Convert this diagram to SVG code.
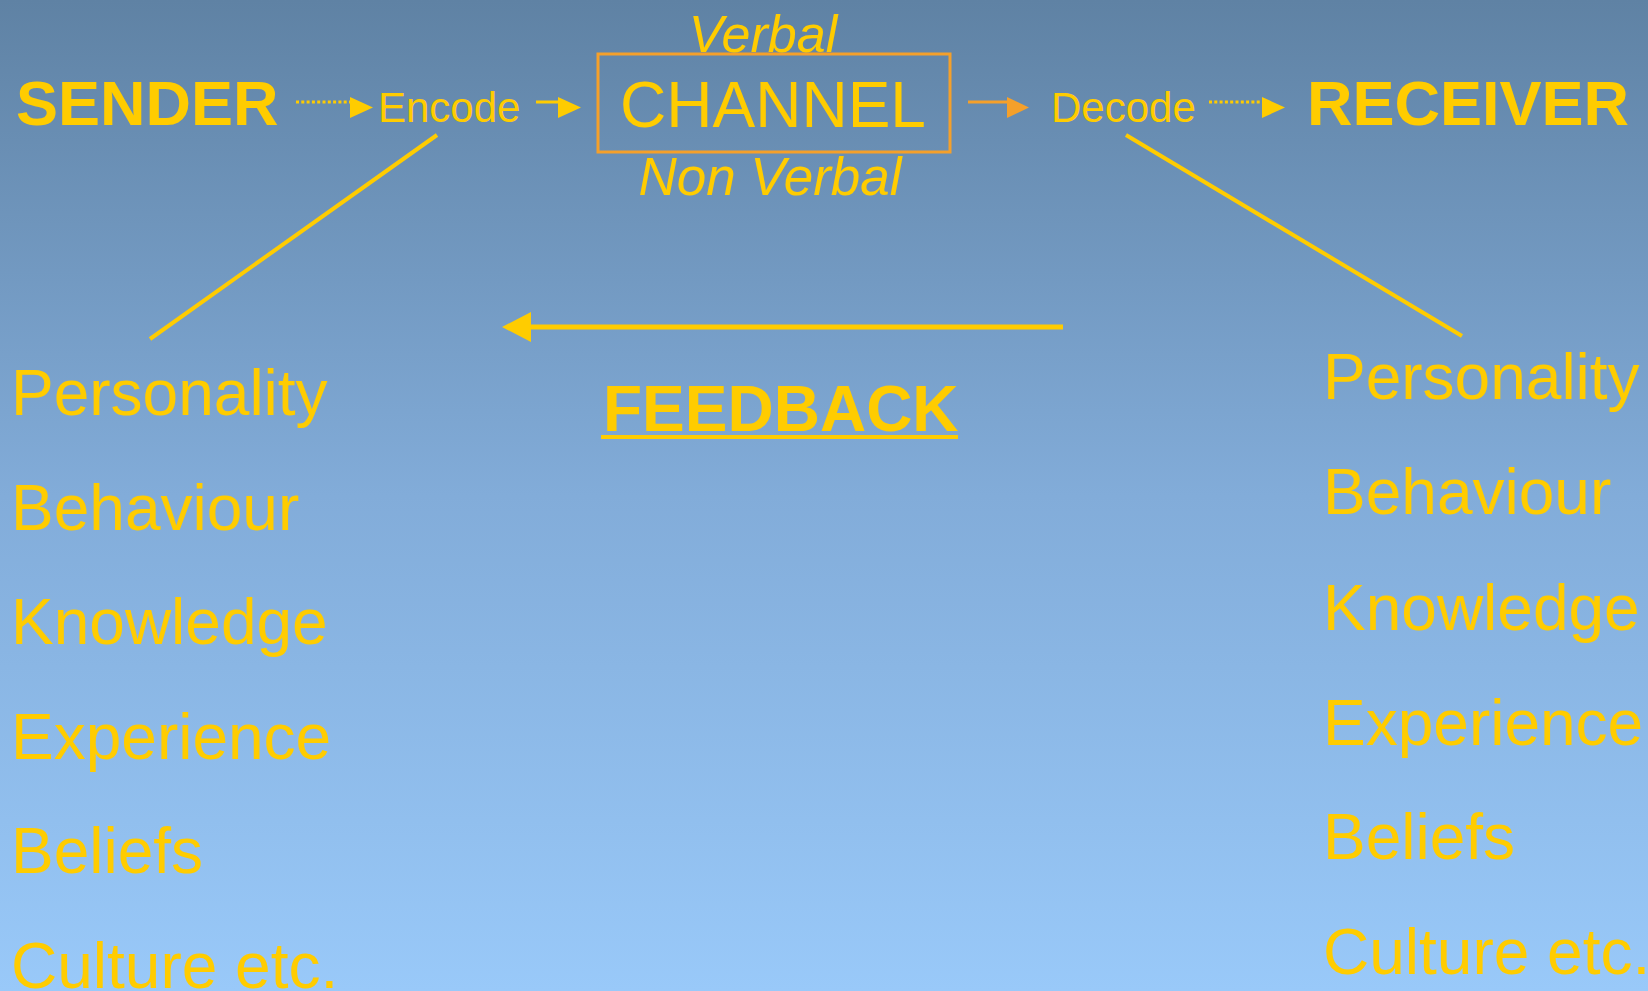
<svg xmlns="http://www.w3.org/2000/svg" width="1648" height="991" viewBox="0 0 1648 991">
<defs>
<linearGradient id="bg" x1="0" y1="0" x2="0" y2="1">
<stop offset="0" stop-color="#5f82a4"/>
<stop offset="0.5" stop-color="#82acd9"/>
<stop offset="1" stop-color="#99c9f9"/>
</linearGradient>
<marker id="ay" viewBox="0 0 10 10" refX="0" refY="5" markerWidth="10" markerHeight="10" markerUnits="userSpaceOnUse" orient="auto" overflow="visible">
<path d="M0,0 L10,5 L0,10 Z" fill="#ffcc00" transform="scale(2.3,2.1)" />
</marker>
<marker id="ao" viewBox="0 0 10 10" refX="0" refY="5" markerWidth="10" markerHeight="10" markerUnits="userSpaceOnUse" orient="auto" overflow="visible">
<path d="M0,0 L10,5 L0,10 Z" fill="#f5a02a" transform="scale(2.2,2.1)" />
</marker>
</defs>
<style>
.t{font-family:"Liberation Sans",Arial,sans-serif;fill:#ffcc00}
.b{font-weight:bold}
.i{font-style:italic}
.big{font-size:63px}
.mid{font-size:42px}
.lst{font-size:64px}
.ln{stroke:#ffcc00;stroke-width:4;fill:none}
</style>
<rect x="0" y="0" width="1648" height="991" fill="url(#bg)"/>

<g id="sender"><text class="t b big" x="16" y="125">SENDER</text></g>
<g id="encode"><text class="t mid" x="378" y="122">Encode</text></g>
<g id="channel">
<rect x="598" y="54" width="352" height="98" fill="none" stroke="#f5a02a" stroke-width="3"/>
<text class="t" x="773" y="127" font-size="64" text-anchor="middle">CHANNEL</text>
<text class="t i" x="763" y="52" font-size="52" text-anchor="middle">Verbal</text>
<text class="t i" x="770" y="195" font-size="53" text-anchor="middle">Non Verbal</text>
</g>
<g id="decode"><text class="t mid" x="1051" y="122">Decode</text></g>
<g id="receiver"><text class="t b big" x="1307" y="125">RECEIVER</text></g>

<g id="sender-traits" class="t lst">
<text x="11" y="415">Personality</text>
<text x="11" y="530">Behaviour</text>
<text x="11" y="644">Knowledge</text>
<text x="11" y="759">Experience</text>
<text x="11" y="873">Beliefs</text>
<text x="11" y="988">Culture etc.</text>
</g>
<g id="receiver-traits" class="t lst">
<text x="1323" y="399">Personality</text>
<text x="1323" y="514">Behaviour</text>
<text x="1323" y="630">Knowledge</text>
<text x="1323" y="745">Experience</text>
<text x="1323" y="859">Beliefs</text>
<text x="1323" y="974">Culture etc.</text>
</g>
<g id="feedback">
<text class="t b" x="603" y="431" font-size="64">FEEDBACK</text>
<line x1="601" y1="437" x2="958" y2="437" stroke="#ffcc00" stroke-width="4"/>
</g>

<g id="connectors">
<line x1="296" y1="102" x2="350" y2="102" stroke="#ffcc00" stroke-width="3" stroke-dasharray="3,2.3" marker-end="url(#ay)"/>
<line x1="536" y1="102" x2="558" y2="102" stroke="#ffcc00" stroke-width="3" marker-end="url(#ay)"/>
<line x1="968" y1="102" x2="1007" y2="102" stroke="#f5a02a" stroke-width="3" marker-end="url(#ao)"/>
<line x1="1209" y1="102" x2="1262" y2="102" stroke="#ffcc00" stroke-width="3" stroke-dasharray="3,2.3" marker-end="url(#ay)"/>
<line class="ln" x1="437" y1="135" x2="150" y2="339"/>
<line class="ln" x1="1126" y1="135" x2="1462" y2="336"/>
<line x1="1063" y1="327" x2="531" y2="327" stroke="#ffcc00" stroke-width="5"/>
<path d="M502,327 L531,312 L531,342 Z" fill="#ffcc00"/>
</g>
</svg>
